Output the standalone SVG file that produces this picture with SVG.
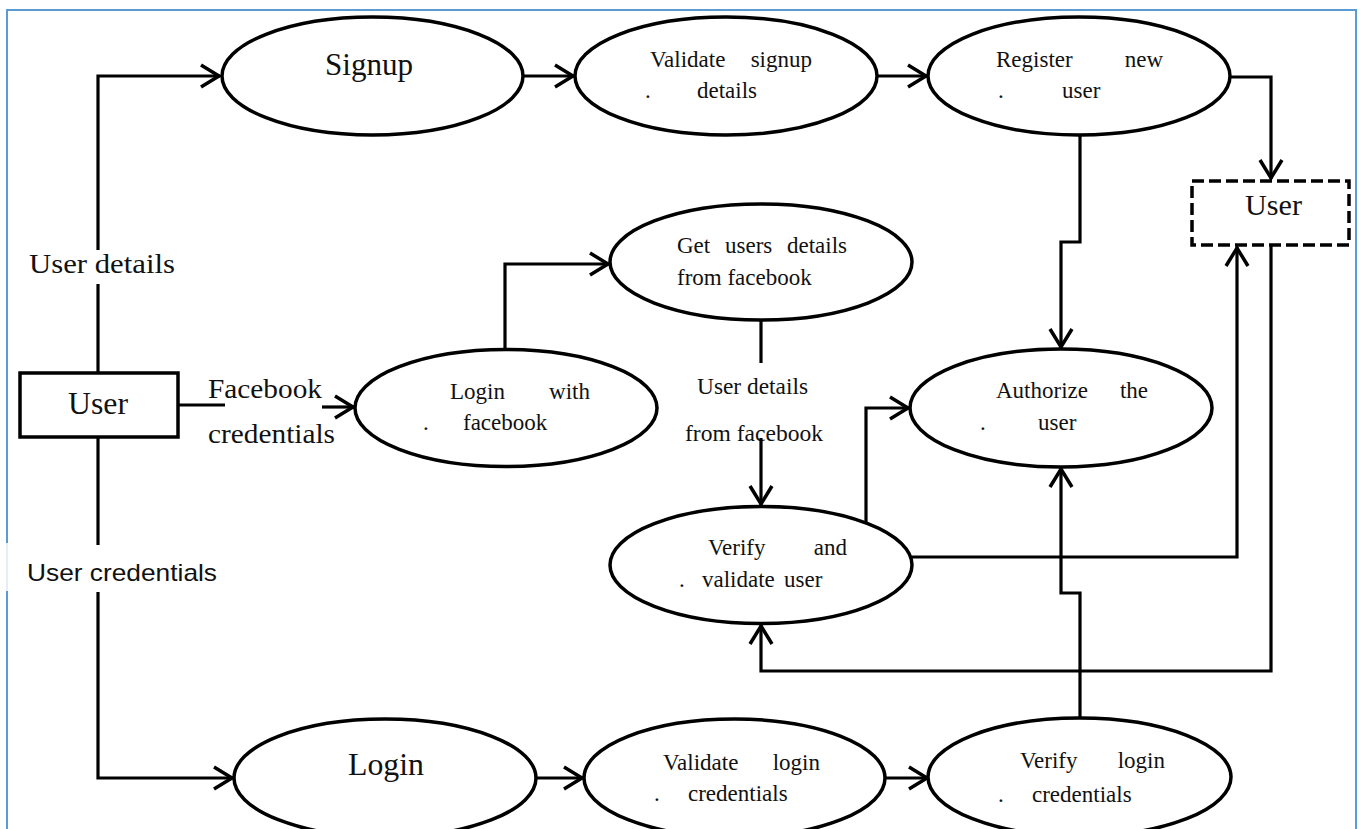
<svg xmlns="http://www.w3.org/2000/svg" width="1362" height="829" viewBox="0 0 1362 829">
  <defs>
    <marker id="arr" markerUnits="userSpaceOnUse" markerWidth="40" markerHeight="40" viewBox="-30 -20 40 40" refX="0" refY="0" orient="auto" overflow="visible">
      <path d="M-19,-11 L-1,0 L-19,11" fill="none" stroke="#000" stroke-width="3.5" stroke-linejoin="miter"/>
    </marker>
    <style>
      .proc { fill: #fff; stroke: #000; stroke-width: 3.5; }
      .ext { fill: #fff; stroke: #000; stroke-width: 3.5; }
      .store { fill: #fff; stroke: #000; stroke-width: 3.5; stroke-dasharray: 12 5; }
      .flow { fill: none; stroke: #000; stroke-width: 3.2; }
      .arrow { marker-end: url(#arr); }
      .t { font-family: "Liberation Serif", "Times New Roman", serif; font-size: 23px; fill: #111; }
      .big { font-size: 31px; }
      .lbl { font-family: "Liberation Serif", "Times New Roman", serif; font-size: 28px; fill: #111; }
      .lbls { font-family: "Liberation Serif", "Times New Roman", serif; font-size: 23px; fill: #111; }
      .sans { font-family: "Liberation Sans", Arial, sans-serif; font-size: 24px; fill: #111; }
    </style>
  </defs>

  <rect width="1362" height="829" fill="#fff"/>

  <!-- page frame -->
  <rect x="7" y="10" width="1349" height="840" fill="none" stroke="#5b9bd5" stroke-width="2"/>
  <rect x="3" y="543" width="222" height="48" fill="#fff"/>
  <line x1="7" y1="543" x2="7" y2="591" stroke="#dce8f6" stroke-width="1.5"/>

  <!-- flow labels -->
  <g id="flow-labels">
    <text class="lbl" x="29" y="273" textLength="146" lengthAdjust="spacingAndGlyphs">User details</text>
    <text class="sans" x="27" y="581" textLength="190" lengthAdjust="spacingAndGlyphs">User credentials</text>
    <text class="lbl" x="208" y="398" textLength="114" lengthAdjust="spacingAndGlyphs">Facebook</text>
    <text class="lbl" x="208" y="443" textLength="127" lengthAdjust="spacingAndGlyphs">credentials</text>
    <text class="lbls" x="697" y="394" textLength="111" lengthAdjust="spacingAndGlyphs">User details</text>
    <text class="lbls" x="685" y="441" textLength="138" lengthAdjust="spacingAndGlyphs">from facebook</text>
  </g>

  <!-- data flows -->
  <g id="connectors">
    <path class="flow arrow" d="M98,250 V76 H220"/>
    <path class="flow" d="M98,373 V284"/>
    <path class="flow" d="M98,437 V545"/>
    <path class="flow arrow" d="M98,592 V778 H233"/>
    <path class="flow" d="M178,405 H225"/>
    <path class="flow arrow" d="M322,407 H354"/>
    <path class="flow arrow" d="M505,350 V264 H609"/>
    <path class="flow" d="M761,320 V363"/>
    <path class="flow arrow" d="M761,438 V505"/>
    <path class="flow arrow" d="M523,76 H574"/>
    <path class="flow arrow" d="M877,76 H927"/>
    <path class="flow arrow" d="M1230,77 H1271 V179"/>
    <path class="flow arrow" d="M1080,135 V242 H1061 V348"/>
    <path class="flow arrow" d="M866,523 V408 H909"/>
    <path class="flow arrow" d="M911,557 H1237 V247"/>
    <path class="flow arrow" d="M1271,245 V671 H761 V625"/>
    <path class="flow arrow" d="M1080,718 V593 H1061 V468"/>
    <path class="flow arrow" d="M536,778 H583"/>
    <path class="flow arrow" d="M885,778 H928"/>
  </g>

  <!-- external entity -->
  <g id="user-entity">
    <rect class="ext" x="20" y="373" width="158" height="64"/>
    <text class="t big" x="68" y="414" textLength="60" lengthAdjust="spacingAndGlyphs">User</text>
  </g>

  <g id="signup">
    <ellipse class="proc" cx="372.5" cy="76" rx="150.5" ry="59"/>
    <text class="t big" x="325" y="75" textLength="88" lengthAdjust="spacingAndGlyphs">Signup</text>
  </g>

  <g id="validate-signup">
    <ellipse class="proc" cx="726" cy="76" rx="151" ry="59"/>
    <text class="t" x="650" y="67">Validate</text>
    <text class="t" x="812" y="67" text-anchor="end">signup</text>
    <text class="t" x="645" y="98">.</text>
    <text class="t" x="697" y="98">details</text>
  </g>

  <g id="register-user">
    <ellipse class="proc" cx="1079" cy="76" rx="151" ry="59"/>
    <text class="t" x="996" y="67">Register</text>
    <text class="t" x="1163" y="67" text-anchor="end">new</text>
    <text class="t" x="998" y="98">.</text>
    <text class="t" x="1062" y="98">user</text>
  </g>

  <g id="user-store">
    <rect class="store" x="1192" y="181" width="157" height="64"/>
    <text class="t" x="1245" y="215" font-size="30" style="font-size:30px" textLength="57" lengthAdjust="spacingAndGlyphs">User</text>
  </g>

  <g id="get-facebook-details">
    <ellipse class="proc" cx="761" cy="262" rx="151" ry="58"/>
    <text class="t" x="677" y="253">Get</text>
    <text class="t" x="725" y="253">users</text>
    <text class="t" x="847" y="253" text-anchor="end">details</text>
    <text class="t" x="677" y="285">from facebook</text>
  </g>

  <g id="login-facebook">
    <ellipse class="proc" cx="506" cy="408" rx="151" ry="58.5"/>
    <text class="t" x="450" y="399">Login</text>
    <text class="t" x="590" y="399" text-anchor="end">with</text>
    <text class="t" x="423" y="430">.</text>
    <text class="t" x="463" y="430">facebook</text>
  </g>

  <g id="authorize-user">
    <ellipse class="proc" cx="1061" cy="408" rx="151" ry="59"/>
    <text class="t" x="996" y="398">Authorize</text>
    <text class="t" x="1148" y="398" text-anchor="end">the</text>
    <text class="t" x="980" y="430">.</text>
    <text class="t" x="1038" y="430">user</text>
  </g>

  <g id="verify-validate-user">
    <ellipse class="proc" cx="761" cy="565" rx="151" ry="58.5"/>
    <text class="t" x="708" y="555">Verify</text>
    <text class="t" x="847" y="555" text-anchor="end">and</text>
    <text class="t" x="679" y="587">.</text>
    <text class="t" x="702" y="587">validate</text>
    <text class="t" x="784" y="587">user</text>
  </g>

  <g id="login">
    <ellipse class="proc" cx="385" cy="778" rx="151" ry="59"/>
    <text class="t big" x="348" y="775" textLength="76" lengthAdjust="spacingAndGlyphs">Login</text>
  </g>

  <g id="validate-login">
    <ellipse class="proc" cx="734.5" cy="778" rx="150.5" ry="59"/>
    <text class="t" x="663" y="770">Validate</text>
    <text class="t" x="820" y="770" text-anchor="end">login</text>
    <text class="t" x="654" y="801">.</text>
    <text class="t" x="688" y="801">credentials</text>
  </g>

  <g id="verify-login">
    <ellipse class="proc" cx="1079.5" cy="777" rx="151.5" ry="59"/>
    <text class="t" x="1020" y="768">Verify</text>
    <text class="t" x="1165" y="768" text-anchor="end">login</text>
    <text class="t" x="998" y="802">.</text>
    <text class="t" x="1032" y="802">credentials</text>
  </g>
</svg>
